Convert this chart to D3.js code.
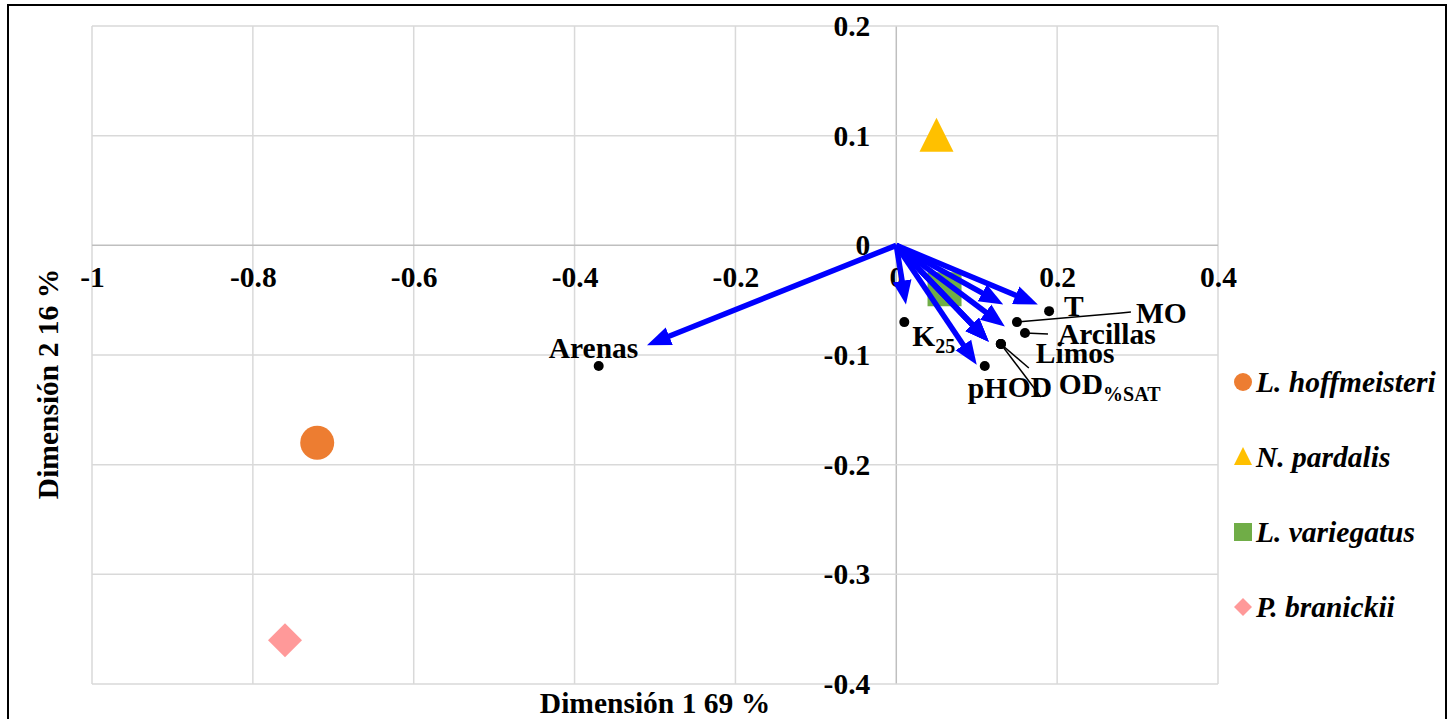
<!DOCTYPE html>
<html>
<head>
<meta charset="utf-8">
<script src="https://cdn.jsdelivr.net/npm/d3@7"></script>
<style>
body { margin: 0; background: #fff; }
text { font-family: "Liberation Serif", "Times New Roman", serif; font-weight: bold; fill: #000; }
</style>
</head>
<body>
<div id="canvas"></div>
<script>
// ----------------------------------------------------------
// DATA -----------------------------------------------------
// ----------------------------------------------------------

var species = ["L. hoffmeisteri", "N. pardalis", "L. variegatus", "P. branickii"];
var species_dim1 = [-0.72, 0.05, 0.06, -0.76];
var species_dim2 = [-0.18, 0.10, -0.04, -0.36];

var variables = ["Arenas", "T", "MO", "Arcillas", "Limos", "pH", "OD", "OD%SAT", "K25"];
var variable_dim1 = [-0.37, 0.19, 0.15, 0.16, 0.13, 0.11, 0.13, 0.13, 0.01];
var variable_dim2 = [-0.11, -0.06, -0.07, -0.08, -0.09, -0.11, -0.09, -0.09, -0.07];
// arrow tips (loadings drawn from the origin)
var arrow_dim1 = [-0.31, 0.176, 0.133, 0.135, 0.115, 0.100, 0.115, 0.115, 0.012];
var arrow_dim2 = [-0.091, -0.054, -0.054, -0.074, -0.088, -0.109, -0.088, -0.088, -0.054];

var x_ticks = [-1, -0.8, -0.6, -0.4, -0.2, 0, 0.2, 0.4];
var y_ticks = [0.2, 0.1, 0, -0.1, -0.2, -0.3, -0.4];

var x_title = "Dimensión 1 69 %";
var y_title = "Dimensión 2 16 %";

// ----------------------------------------------------------
// LAYOUT ---------------------------------------------------
// ----------------------------------------------------------

var W = 1454, H = 719;
var plot = { left: 92, right: 1218, top: 26, bottom: 684 };
var font_size = "29.5px";
var sub_size = "20px";

var colors = { "L. hoffmeisteri": "#ED7D31", "N. pardalis": "#FFC000", "L. variegatus": "#70AD47", "P. branickii": "#FF9999" };
var shapes = { "L. hoffmeisteri": "circle", "N. pardalis": "triangle", "L. variegatus": "square", "P. branickii": "diamond" };

// label placement relative to each variable dot (px)
var label_pos = {
"Arenas":   { dx: -50, dy: -8 },
"T":        { dx: 15,  dy: 5 },
"MO":       { dx: 119, dy: 1,  leader: [[104, -9], [114, -10]] },
"Arcillas": { dx: 33,  dy: 11, leader: [[23, 1]] },
"Limos":    { dx: 35,  dy: 19 },
"pH":       { dx: -17, dy: 32 },
"OD":       { dx: 7,   dy: 53, leader: [[40, 53]] },
"OD%SAT":   { dx: 58,  dy: 50, leader: [[28, 24]] },
"K25":      { dx: 8,   dy: 24 }
};

var svg = d3.select("#canvas").append("svg")
.attr("width", W)
.attr("height", H);

// chart frame
svg.append("rect")
.attr("x", 8).attr("y", 5)
.attr("width", 1438).attr("height", 720)
.attr("fill", "#fff")
.attr("stroke", "#000")
.attr("stroke-width", 2);

var xScale = d3.scaleLinear().domain([-1, 0.4]).range([plot.left, plot.right]);
var yScale = d3.scaleLinear().domain([-0.4, 0.2]).range([plot.bottom, plot.top]);

var fmt = function (d) { return String(+d.toFixed(1)); };

// ----------------------------------------------------------
// GRID -----------------------------------------------------
// ----------------------------------------------------------
var grid = svg.append("g").attr("class", "grid");

grid.selectAll(".vgrid")
.data(x_ticks)
.enter().append("line")
.attr("x1", function (d) { return xScale(d); })
.attr("x2", function (d) { return xScale(d); })
.attr("y1", plot.top).attr("y2", plot.bottom)
.attr("stroke", function (d) { return d === 0 ? "#bfbfbf" : "#d9d9d9"; })
.attr("stroke-width", 1.5);

grid.selectAll(".hgrid")
.data(y_ticks)
.enter().append("line")
.attr("y1", function (d) { return yScale(d); })
.attr("y2", function (d) { return yScale(d); })
.attr("x1", plot.left).attr("x2", plot.right)
.attr("stroke", function (d) { return d === 0 ? "#bfbfbf" : "#d9d9d9"; })
.attr("stroke-width", 1.5);

// tick labels through axes crossing at the origin
var xAxis = svg.append("g")
.attr("transform", `translate(0, ${yScale(0)})`)
.call(d3.axisBottom(xScale).tickValues(x_ticks).tickFormat(fmt).tickSize(0).tickPadding(21));

var yAxis = svg.append("g")
.attr("transform", `translate(${xScale(0)}, 0)`)
.call(d3.axisLeft(yScale).tickValues(y_ticks).tickFormat(fmt).tickSize(0).tickPadding(26));

[xAxis, yAxis].forEach(function (a) {
a.select(".domain").remove();
a.selectAll("text")
.attr("fill", "#000")
.style("font-family", '"Liberation Serif", "Times New Roman", serif')
.style("font-weight", "bold")
.style("font-size", font_size);
});

// axis titles
svg.append("text")
.attr("x", 655).attr("y", 713)
.attr("text-anchor", "middle")
.style("font-size", font_size)
.text(x_title);

svg.append("text")
.attr("transform", "translate(58, 384) rotate(-90)")
.attr("text-anchor", "middle")
.style("font-size", font_size)
.text(y_title);

// ----------------------------------------------------------
// MARKERS --------------------------------------------------
// ----------------------------------------------------------
function markerPath(shape, s) {
// s = full width of the marker
var h = s / 2;
if (shape === "circle") return d3.symbol(d3.symbolCircle, Math.PI * h * h)();
if (shape === "square") return `M${-h},${-h}H${h}V${h}H${-h}Z`;
if (shape === "diamond") return `M0,${-h}L${h},0L0,${h}L${-h},0Z`;
return `M0,${-h - 1}L${h},${h - 1}L${-h},${h - 1}Z`;
}

var species_data = species.map(function (s, i) {
return { name: s, x: species_dim1[i], y: species_dim2[i] };
});

svg.append("g").attr("class", "species")
.selectAll("path")
.data(species_data)
.enter().append("path")
.attr("transform", function (d) { return `translate(${xScale(d.x)}, ${yScale(d.y)})`; })
.attr("d", function (d) { return markerPath(shapes[d.name], 34); })
.attr("fill", function (d) { return colors[d.name]; });

// ----------------------------------------------------------
// ARROWS ---------------------------------------------------
// ----------------------------------------------------------
svg.append("defs").append("marker")
.attr("id", "head")
.attr("markerUnits", "userSpaceOnUse")
.attr("viewBox", "0 -10 24 20")
.attr("markerWidth", 24).attr("markerHeight", 20)
.attr("refX", 9).attr("refY", 0)
.attr("orient", "auto")
.append("path")
.attr("d", "M0,-9.5L24,0L0,9.5Z")
.attr("fill", "#0000FF");

var var_data = variables.map(function (v, i) {
return { name: v, x: variable_dim1[i], y: variable_dim2[i], ax: arrow_dim1[i], ay: arrow_dim2[i] };
});

svg.append("g").attr("class", "arrows")
.selectAll("line")
.data(var_data)
.enter().append("line")
.each(function (d) {
var x0 = xScale(0), y0 = yScale(0);
var x1 = xScale(d.ax), y1 = yScale(d.ay);
var len = Math.hypot(x1 - x0, y1 - y0);
var k = (len - 15) / len;
d3.select(this)
.attr("x1", x0).attr("y1", y0)
.attr("x2", x0 + (x1 - x0) * k)
.attr("y2", y0 + (y1 - y0) * k);
})
.attr("stroke", "#0000FF")
.attr("stroke-width", 5.5)
.attr("marker-end", "url(#head)");

// ----------------------------------------------------------
// VARIABLE POINTS + LABELS ---------------------------------
// ----------------------------------------------------------
var vg = svg.append("g").attr("class", "variables");

vg.selectAll(".leader")
.data(var_data.filter(function (d) { return label_pos[d.name].leader; }))
.enter().append("path")
.attr("d", function (d) {
var px = xScale(d.x), py = yScale(d.y);
var pts = [[px, py]].concat(label_pos[d.name].leader.map(function (p) { return [px + p[0], py + p[1]]; }));
return d3.line()(pts);
})
.attr("fill", "none")
.attr("stroke", "#000")
.attr("stroke-width", 1.5);

vg.selectAll("circle")
.data(var_data)
.enter().append("circle")
.attr("cx", function (d) { return xScale(d.x); })
.attr("cy", function (d) { return yScale(d.y); })
.attr("r", 5)
.attr("fill", "#000");

var labels = vg.selectAll(".var_label")
.data(var_data)
.enter().append("text")
.attr("class", "var_label")
.attr("x", function (d) { return xScale(d.x) + label_pos[d.name].dx; })
.attr("y", function (d) { return yScale(d.y) + label_pos[d.name].dy; })
.style("font-size", font_size);

labels.each(function (d) {
var t = d3.select(this);
if (d.name === "K25") {
t.append("tspan").text("K");
t.append("tspan").attr("dy", 7).style("font-size", sub_size).text("25");
} else if (d.name === "OD%SAT") {
t.append("tspan").text("OD");
t.append("tspan").attr("dy", 7).style("font-size", sub_size).text("%SAT");
} else {
t.text(d.name);
}
});

// ----------------------------------------------------------
// LEGEND ---------------------------------------------------
// ----------------------------------------------------------
var legend = svg.append("g").attr("class", "legend")
.selectAll("g")
.data(species)
.enter().append("g")
.attr("transform", function (d, i) { return `translate(1243, ${382 + i * 75})`; });

legend.append("path")
.attr("d", function (d) { return markerPath(shapes[d], 18); })
.attr("fill", function (d) { return colors[d]; });

legend.append("text")
.attr("x", 13)
.attr("y", 10)
.style("font-size", font_size)
.style("font-style", "italic")
.text(function (d) { return d; });
</script>
</body>
</html>
